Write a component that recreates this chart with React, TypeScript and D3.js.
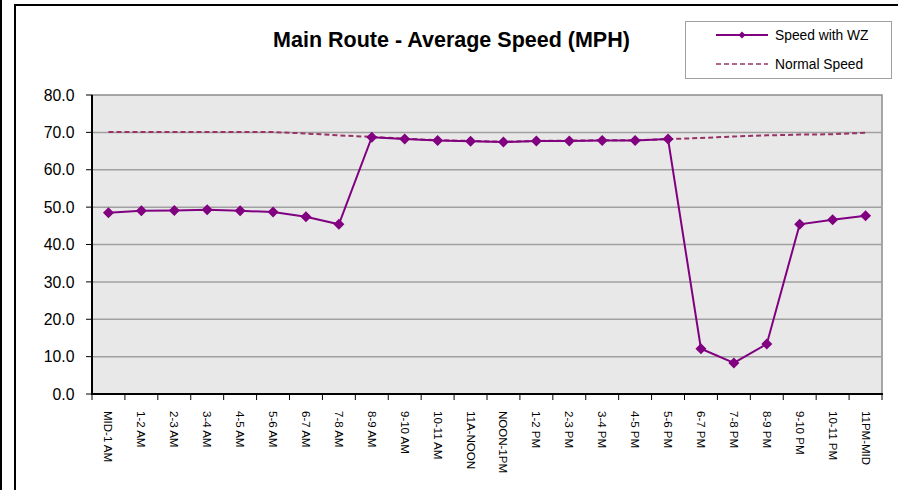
import React from "react";
import * as d3 from "d3";

const categories = [
  "MID-1 AM", "1-2 AM", "2-3 AM", "3-4 AM", "4-5 AM", "5-6 AM", "6-7 AM", "7-8 AM",
  "8-9 AM", "9-10 AM", "10-11 AM", "11A-NOON", "NOON-1PM", "1-2 PM", "2-3 PM", "3-4 PM",
  "4-5 PM", "5-6 PM", "6-7 PM", "7-8 PM", "8-9 PM", "9-10 PM", "10-11 PM", "11PM-MID",
];
const speedWithWZ = [
  48.5, 49.0, 49.1, 49.3, 49.0, 48.7, 47.4, 45.4,
  68.7, 68.2, 67.8, 67.6, 67.4, 67.7, 67.7, 67.8,
  67.8, 68.2, 12.1, 8.3, 13.4, 45.4, 46.6, 47.7,
];
const normalSpeed = [
  70.1, 70.1, 70.1, 70.1, 70.1, 70.1, 69.7, 69.2,
  68.8, 68.3, 67.9, 67.7, 67.5, 67.7, 67.8, 67.9,
  67.9, 68.2, 68.5, 68.9, 69.2, 69.4, 69.5, 69.9,
];
const yTicks = [0, 10, 20, 30, 40, 50, 60, 70, 80];
const title = "Main Route - Average Speed (MPH)";
const seriesNames = ["Speed with WZ", "Normal Speed"];

const W = 898, H = 490;
const plot = { left: 92, top: 95, right: 882, bottom: 394 };
const FONT = "Arial, 'Liberation Sans', sans-serif";
const WZ_COLOR = "#800080";
const NORMAL_COLOR = "#993366";

export default function App() {
  const x = d3.scaleBand<string>().domain(categories).range([plot.left, plot.right]).paddingInner(0).paddingOuter(0);
  const y = d3.scaleLinear().domain([0, 80]).range([plot.bottom, plot.top]);
  const cx = (c: string) => (x(c) as number) + x.bandwidth() / 2;

  const line = d3.line<number>().x((_, i) => cx(categories[i])).y((d) => y(d));
  const diamond = (r: number) => `M0,${-r}L${r},0L0,${r}L${-r},0Z`;
  const boundaries = d3.range(categories.length + 1).map((i) => plot.left + i * x.bandwidth());

  return (
    <svg width={W} height={H} style={{ position: "absolute", left: 0, top: 0, fontFamily: FONT }}>
      <rect x={0} y={0} width={W} height={H} fill="#ffffff" />
      {/* outer frames */}
      <line x1={1} y1={0} x2={1} y2={H} stroke="#000" strokeWidth={2} />
      <line x1={15} y1={5} x2={15} y2={H} stroke="#000" strokeWidth={2} />
      <line x1={14} y1={5} x2={W} y2={5} stroke="#000" strokeWidth={2} />

      {/* title */}
      <text x={451.5} y={47} textAnchor="middle" fontSize={21.5} fontWeight="bold" fill="#000">{title}</text>

      {/* plot area */}
      <rect x={plot.left} y={plot.top} width={plot.right - plot.left} height={plot.bottom - plot.top} fill="#e8e8e8" stroke="#8c8c8c" strokeWidth={1.5} />
      {yTicks.filter((t) => t > 0 && t < 80).map((t) => (
        <line key={t} x1={plot.left} x2={plot.right} y1={y(t)} y2={y(t)} stroke="#a0a0a0" strokeWidth={1.5} />
      ))}

      {/* axes */}
      <line x1={plot.left} y1={plot.top} x2={plot.left} y2={plot.bottom + 1} stroke="#000" strokeWidth={2} />
      <line x1={plot.left} y1={plot.bottom} x2={plot.right + 1} y2={plot.bottom} stroke="#000" strokeWidth={2} />
      {yTicks.map((t) => (
        <g key={t}>
          <line x1={plot.left - 6} x2={plot.left} y1={y(t)} y2={y(t)} stroke="#000" strokeWidth={1} />
          <text x={74.5} y={y(t)} dy="0.36em" textAnchor="end" fontSize={15.8} fill="#000">{t.toFixed(1)}</text>
        </g>
      ))}
      {boundaries.map((b, i) => (
        <line key={i} x1={b} x2={b} y1={plot.bottom} y2={plot.bottom + 6} stroke="#000" strokeWidth={1} />
      ))}
      {categories.map((c) => (
        <text key={c} transform={`translate(${cx(c) - 4},${411}) rotate(90)`} fontSize={11.5} fill="#000">{c}</text>
      ))}

      {/* series */}
      <path d={line(normalSpeed) || ""} fill="none" stroke={NORMAL_COLOR} strokeWidth={2} strokeDasharray="5,3" />
      <path d={line(speedWithWZ) || ""} fill="none" stroke={WZ_COLOR} strokeWidth={2} />
      {speedWithWZ.map((v, i) => (
        <path key={i} d={diamond(5.5)} transform={`translate(${cx(categories[i])},${y(v)})`} fill={WZ_COLOR} />
      ))}

      {/* legend */}
      <rect x={685.5} y={21.5} width={206} height={57} fill="#fff" stroke="#a0a0a0" strokeWidth={1} />
      <line x1={716} x2={768} y1={35} y2={35} stroke={WZ_COLOR} strokeWidth={2} />
      <path d={diamond(3.5)} transform="translate(742,35)" fill={WZ_COLOR} />
      <text x={775} y={35} dy="0.36em" fontSize={13.8} fill="#000">{seriesNames[0]}</text>
      <line x1={716} x2={768} y1={64} y2={64} stroke={NORMAL_COLOR} strokeWidth={1.5} strokeDasharray="5,3" />
      <text x={775} y={64} dy="0.36em" fontSize={13.8} fill="#000">{seriesNames[1]}</text>
    </svg>
  );
}
